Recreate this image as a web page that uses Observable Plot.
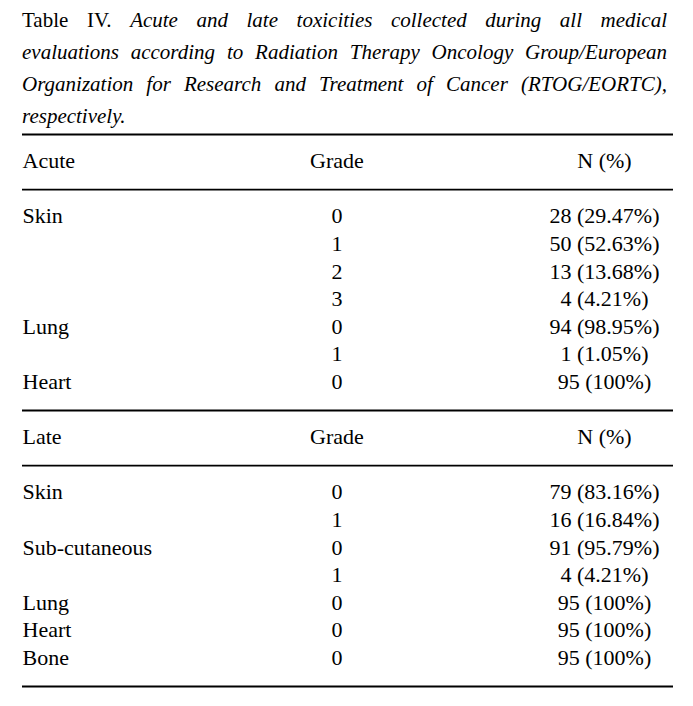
<!DOCTYPE html>
<html>
<head>
<meta charset="utf-8">
<script src="https://cdn.jsdelivr.net/npm/d3@7"></script>
<script src="https://cdn.jsdelivr.net/npm/@observablehq/plot@0.6"></script>
<style>
  html, body { margin: 0; padding: 0; background: #fff; }
  body { width: 693px; height: 706px; overflow: hidden; font-family: "Liberation Serif", "DejaVu Serif", serif; color: #000; }
  #title { box-sizing: border-box; height: 132px; padding: 4px 0 0 22px; width: 693px; font-size: 21px; line-height: 32px; }
  #title .j { width: 645px; text-align: justify; text-align-last: justify; white-space: normal; }
  #title .l { width: 645px; }
  #chart svg { display: block; }
</style>
</head>
<body>
<div id="title">
  <div class="j">Table IV. <i>Acute and late toxicities collected during all medical</i></div>
  <div class="j"><i>evaluations according to Radiation Therapy Oncology Group/European</i></div>
  <div class="j"><i>Organization for Research and Treatment of Cancer (RTOG/EORTC),</i></div>
  <div class="l"><i>respectively.</i></div>
</div>
<div id="chart"></div>
<script>
// ---- data ----
const columns = ["toxicity", "grade", "n"];
const acuteHeader = ["Acute", "Grade", "N (%)"];
const lateHeader = ["Late", "Grade", "N (%)"];

const acuteOrgan = ["Skin", "", "", "", "Lung", "", "Heart"];
const acuteGrade = [0, 1, 2, 3, 0, 1, 0];
const acuteCount = [28, 50, 13, 4, 94, 1, 95];
const acutePct = [29.47, 52.63, 13.68, 4.21, 98.95, 1.05, 100];

const lateOrgan = ["Skin", "", "Sub-cutaneous", "", "Lung", "Heart", "Bone"];
const lateGrade = [0, 1, 0, 1, 0, 0, 0];
const lateCount = [79, 16, 91, 4, 95, 95, 95];
const latePct = [83.16, 16.84, 95.79, 4.21, 100, 100, 100];

// ---- layout: column anchor as a fraction (0–1) of the table width ----
const colAnchor = {toxicity: 0, grade: 0.483, n: 0.894};

// ---- build table rows (slot = row order in the table) ----
const cells = [];
const rules = [];
let slot = 0;
function section(header, organ, grade, count, pct) {
  rules.push(slot); slot += 1;
  header.forEach((t, i) => cells.push({col: columns[i], slot, text: t}));
  slot += 1;
  rules.push(slot); slot += 1;
  organ.forEach((o, i) => {
    cells.push({col: "toxicity", slot, text: o});
    cells.push({col: "grade", slot, text: String(grade[i])});
    cells.push({col: "n", slot, text: `${count[i]} (${pct[i]}%)`});
    slot += 1;
  });
}
section(acuteHeader, acuteOrgan, acuteGrade, acuteCount, acutePct);
section(lateHeader, lateOrgan, lateGrade, lateCount, latePct);
rules.push(slot);

const W = 693, H = 574;
const chart = Plot.plot({
  width: W,
  height: H,
  marginLeft: 22,
  marginRight: 20,
  marginTop: 2,
  marginBottom: 20,
  style: {fontFamily: "Liberation Serif", background: "white", color: "black"},
  x: {type: "linear", domain: [0, 1], axis: null},
  y: {type: "linear", domain: [0, slot], reverse: true, axis: null},
  marks: [
    Plot.ruleY(rules, {y: d => d, stroke: "black", strokeWidth: 1.8}),
    Plot.text(cells.filter(d => d.col === "toxicity"), {x: d => colAnchor[d.col], y: "slot", text: "text", textAnchor: "start", fontSize: 22, fill: "black", dy: -1}),
    Plot.text(cells.filter(d => d.col !== "toxicity"), {x: d => colAnchor[d.col], y: "slot", text: "text", textAnchor: "middle", fontSize: 22, fill: "black", dy: -1})
  ]
});
document.getElementById("chart").appendChild(chart);
</script>
</body>
</html>
